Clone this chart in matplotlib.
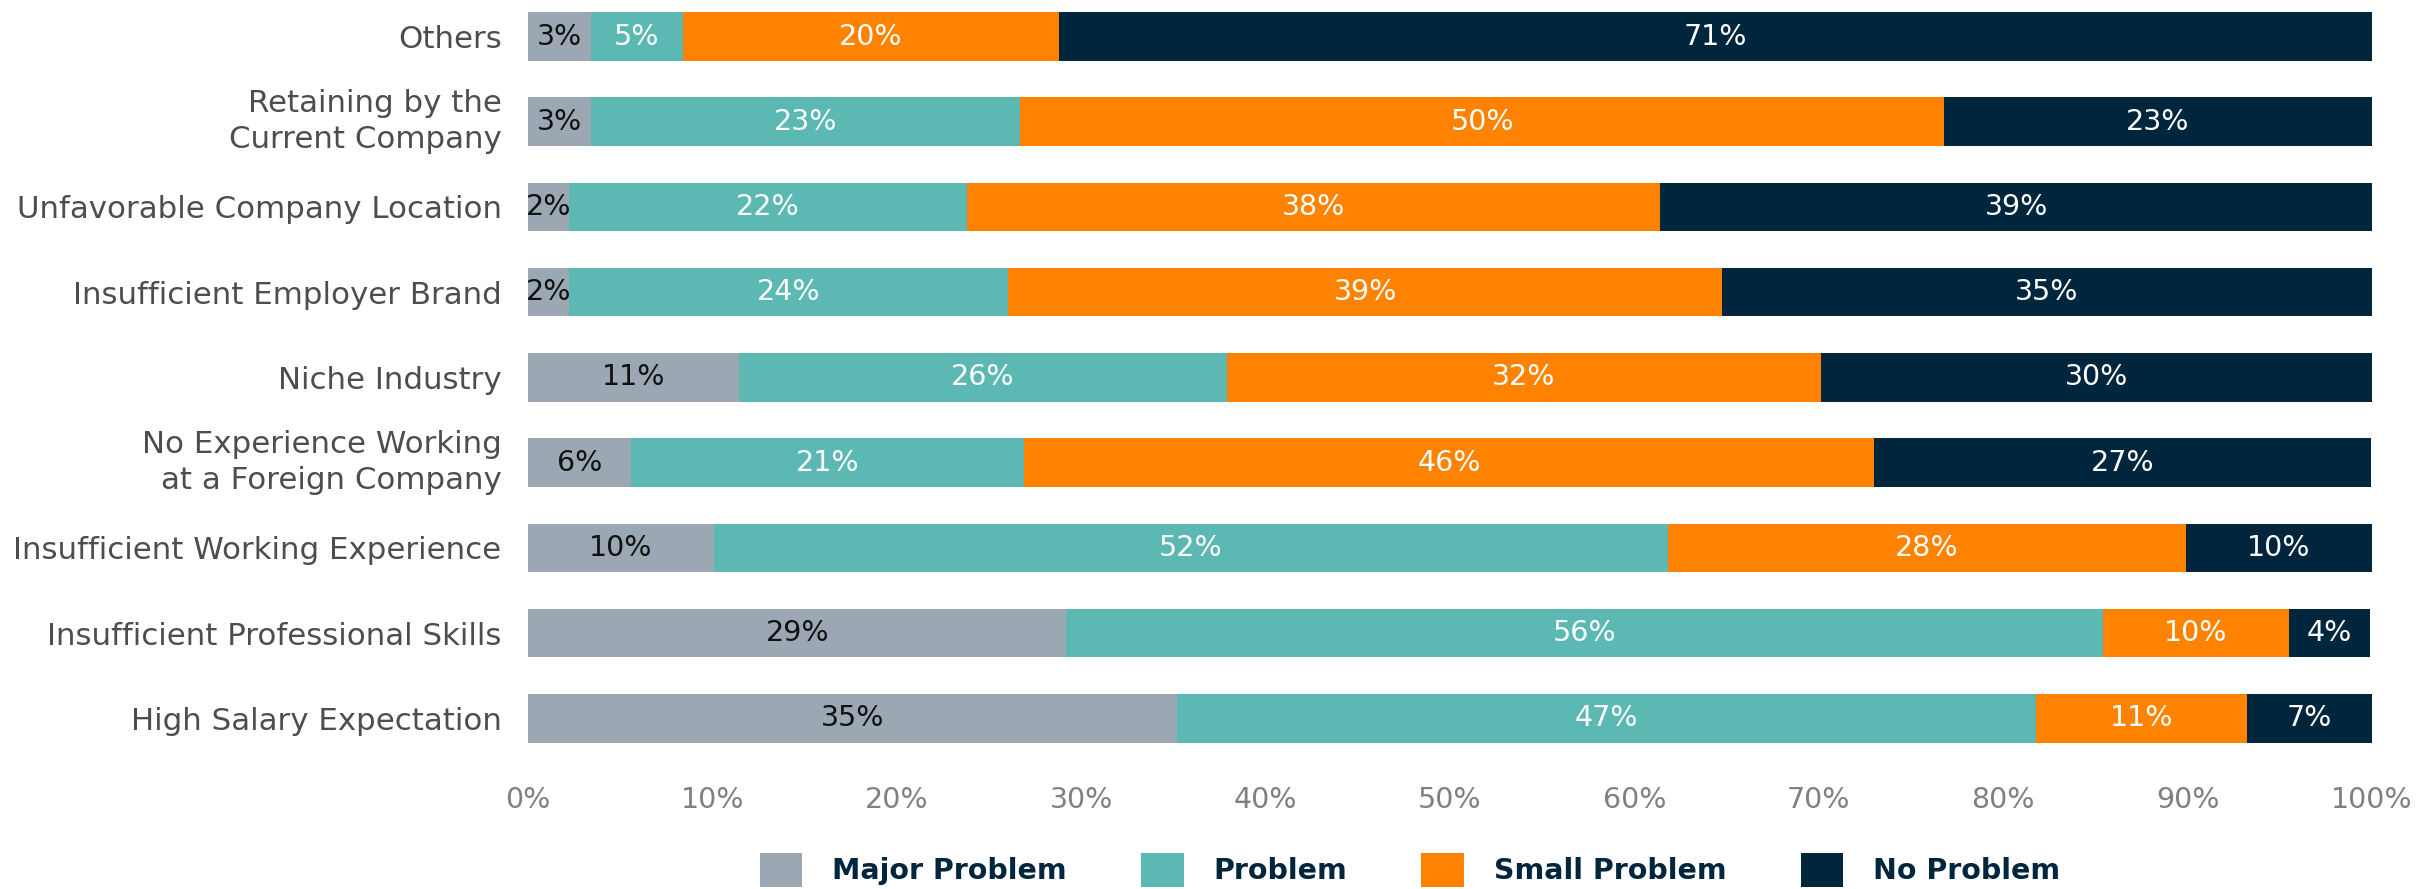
import matplotlib
matplotlib.use("Agg")
import matplotlib.pyplot as plt
from matplotlib.patches import Patch
import numpy as np

plt.rcParams['font.family'] = ['DejaVu Sans']

categories = [
    "High Salary Expectation",
    "Insufficient Professional Skills",
    "Insufficient Working Experience",
    "No Experience Working\nat a Foreign Company",
    "Niche Industry",
    "Insufficient Employer Brand",
    "Unfavorable Company Location",
    "Retaining by the\nCurrent Company",
    "Others",
]
series_names = ["Major Problem", "Problem", "Small Problem", "No Problem"]
major_problem = [35.2, 29.2, 10.1, 5.6, 11.45, 2.2, 2.2, 3.4, 3.4]
problem       = [46.6, 56.2, 51.7, 21.3, 26.45, 23.85, 21.6, 23.3, 5.0]
small_problem = [11.4, 10.1, 28.1, 46.1, 32.2, 38.7, 37.6, 50.1, 20.4]
no_problem    = [6.8, 4.4, 10.1, 26.95, 29.9, 35.25, 38.6, 23.2, 71.2]
x_ticks = [0, 10, 20, 30, 40, 50, 60, 70, 80, 90, 100]

colors = ["#9BA7B2", "#5CB8B2", "#FF8200", "#00263E"]
text_colors = ["#111111", "white", "white", "white"]

FS = 20.5
FS_CAT = 22.2

fig = plt.figure(figsize=(24.18, 8.89), dpi=100)
ax = fig.add_axes([528/2418, 1 - 760.9/889, (2372-528)/2418, 760.9/889])

y = np.arange(len(categories))
left = np.zeros(len(categories))
all_series = [major_problem, problem, small_problem, no_problem]
for vals, name, c, tc in zip(all_series, series_names, colors, text_colors):
    vals = np.array(vals)
    ax.barh(y, vals, left=left, height=0.57, color=c, label=name, linewidth=0)
    for yi, l, v in zip(y, left, vals):
        ax.text(l + v/2, yi, f"{v:.0f}%", ha='center', va='center',
                color=tc, fontsize=FS)
    left += vals

ax.set_xlim(0, 100)
ax.set_ylim(-0.5, 8 + 36.5/85.2)
ax.set_yticks(y)
ax.set_yticklabels(categories, fontsize=FS_CAT, color="#4D4D4D", linespacing=1.3)
for lab in ax.get_yticklabels():
    if "\n" in lab.get_text():
        lab.set_verticalalignment('center')
ax.set_xticks(x_ticks)
ax.set_xticklabels([f"{t}%" for t in x_ticks], fontsize=FS, color="#808080")
ax.tick_params(axis='both', length=0)
ax.tick_params(axis='y', pad=19)
ax.tick_params(axis='x', pad=18)
for s in ax.spines.values():
    s.set_visible(False)

handles = [Patch(facecolor=c, edgecolor='none') for c in colors]
fig.legend(handles, series_names, loc='center', bbox_to_anchor=(1410/2418, 1 - 870/889),
           ncol=4, frameon=False, handlelength=1.5, handleheight=1.5,
           handletextpad=1.05, columnspacing=2.6, borderpad=0, borderaxespad=0,
           labelcolor="#00263E", prop={'weight': 'bold', 'size': FS})

fig.savefig("out.png", dpi=100, facecolor='white')
